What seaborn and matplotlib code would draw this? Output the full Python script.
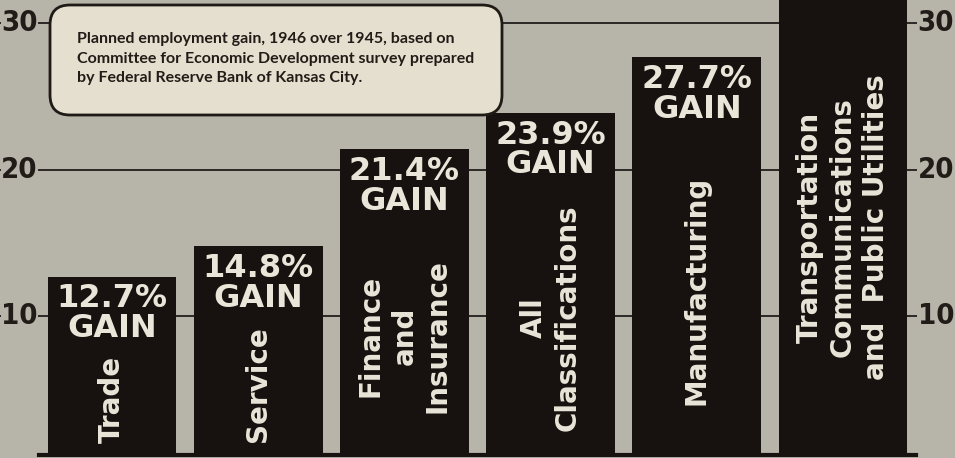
import matplotlib
matplotlib.use("Agg")
import matplotlib.pyplot as plt
import seaborn as sns
import pandas as pd
from matplotlib.patches import FancyBboxPatch

# Planned employment gain by sector, 1946 over 1945 (percent)
sectors = ["Trade", "Service", "Finance\nand\nInsurance", "All\nClassifications",
           "Manufacturing", "Transportation\nCommunications\nand  Public Utilities"]
gains = [12.7, 14.8, 21.4, 23.9, 27.7, 33.0]
gain_labels = ["12.7%", "14.8%", "21.4%", "23.9%", "27.7%", None]
y_ticks = [10, 20, 30]
note = ("Planned employment gain, 1946 over 1945, based on\n"
        "Committee for Economic Development survey prepared\n"
        "by Federal Reserve Bank of Kansas City.")

df = pd.DataFrame({"sector": sectors, "gain": gains})

BG = "#b7b4aa"
BAR = "#17120f"
CREAM = "#e9e5d8"
INK = "#221c18"

sns.set_style("white")
plt.rcParams["font.family"] = ["DejaVu Sans"]

W, H = 955, 458
fig = plt.figure(figsize=(W / 100, H / 100), dpi=100)
fig.patch.set_facecolor(BG)
ax = fig.add_axes([39 / W, 3 / H, (916 - 39) / W, 455 / H])
ax.set_facecolor(BG)

sns.barplot(data=df, x="sector", y="gain", color=BAR, saturation=1,
            width=0.88, linewidth=0, edgecolor=BAR, ax=ax, zorder=3)
ax.set_xlim(-0.5, 5.5)
ax.set_ylim(0.5, 31.6)
ax.set_xticks([])
ax.set_yticks([])
ax.set_xlabel("")
ax.set_ylabel("")
for side in ("left", "right", "top"):
    ax.spines[side].set_visible(False)
ax.spines["bottom"].set_color(BAR)
ax.spines["bottom"].set_linewidth(3)

# horizontal rules running across the full width, with labels on both sides
ytr = ax.get_yaxis_transform()
for v in y_ticks:
    ax.plot([-0.045, 1.045], [v, v], transform=ytr, clip_on=False,
            color="#2b2825", lw=1.4, zorder=1)
    for xf in (-0.0225, 1.0228):
        ax.text(xf, v, str(v), transform=ytr, ha="center", va="center",
                fontsize=21, fontweight="bold", fontstretch="condensed",
                color=INK,
                family=["Liberation Sans Narrow", "DejaVu Sans"],
                bbox=dict(facecolor=BG, edgecolor="none", pad=0.3),
                zorder=2, clip_on=False)

# percentage labels inside the top of each bar
gain_texts = []
for i, (v, lbl) in enumerate(zip(gains, gain_labels)):
    if lbl is None:
        gain_texts.append(None)
        continue
    t = ax.annotate(lbl + "\nGAIN", xy=(i, v), xytext=(0, -5),
                    textcoords="offset points", ha="center", va="top",
                    multialignment="center", fontsize=23, fontweight="bold",
                    color=CREAM, linespacing=0.95, zorder=5)
    gain_texts.append(t)

fig.canvas.draw()
renderer = fig.canvas.get_renderer()
ax_box = ax.get_window_extent(renderer)

# sector names, rotated, centred in the free space under the percentage
for i, (name, t) in enumerate(zip(sectors, gain_texts)):
    if t is not None:
        top = t.get_window_extent(renderer).y0
    else:
        top = ax_box.y1
    yc = (top + ax_box.y0) / 2
    yc_data = ax.transData.inverted().transform((0, yc))[1]
    ax.text(i, yc_data, name, rotation=90, ha="center", va="center",
            multialignment="center", fontsize=20, fontweight="bold",
            color=CREAM, linespacing=1.25, zorder=5)

# note box
box = FancyBboxPatch((0.50, (H - 115) / 100), 4.52, 1.10,
                     boxstyle="round,pad=0,rounding_size=0.2",
                     transform=fig.dpi_scale_trans, facecolor="#e4dfce",
                     edgecolor="#1f1a16", linewidth=2, zorder=10)
fig.add_artist(box)
fig.text(77 / W, 1 - 32 / H, note, ha="left", va="top", fontsize=11.5,
         fontweight="bold", color=INK, linespacing=1.5, zorder=11,
         family=["Lato", "DejaVu Sans"])

fig.savefig("out.png", dpi=100, facecolor=BG)
